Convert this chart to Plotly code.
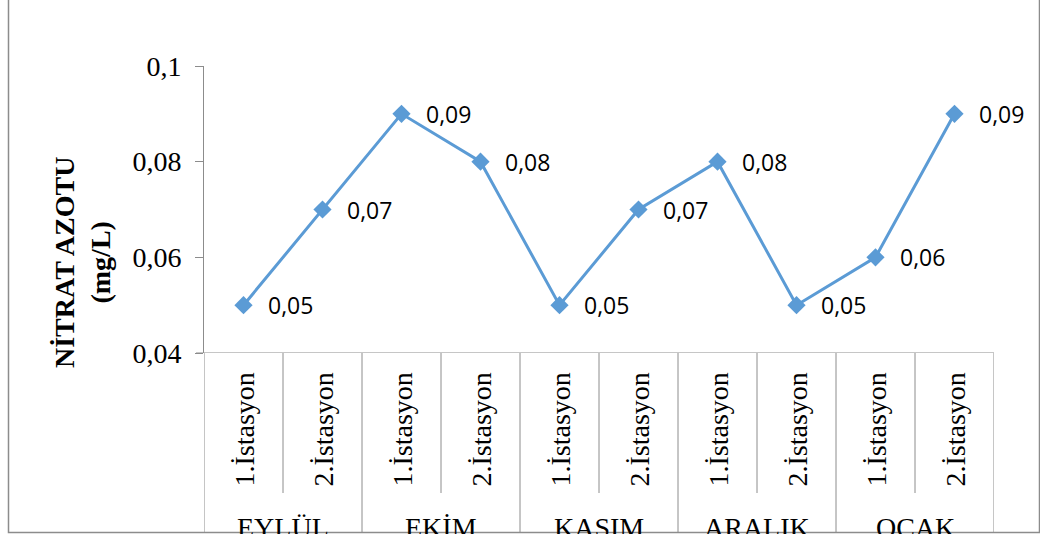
import plotly.graph_objects as go

# Monthly nitrate nitrogen at two stations
months = ["EYLÜL", "EKİM", "KASIM", "ARALIK", "OCAK"]
stations = ["1.İstasyon", "2.İstasyon"]
nitrate = [0.05, 0.07, 0.09, 0.08, 0.05, 0.07, 0.08, 0.05, 0.06, 0.09]
y_ticks = [0.04, 0.06, 0.08, 0.1]
y_title = "NİTRAT AZOTU<br>(mg/L)"

# one unique category per month/station pair
cats = [f"{m} {s}" for m in months for s in stations]
station_of = [s for m in months for s in stations]

W, H = 1040, 534
L, R, T, B = 204, 46, 66, 181
PW = W - L - R
PH = H - T - B


def px(xp):
    """pixel x -> paper x"""
    return (xp - L) / PW


def py(yp):
    """pixel y -> paper y"""
    return (H - B - yp) / PH


GRAY = "#8c8c8c"
SERIF = "Liberation Serif"

fig = go.Figure()
fig.add_trace(go.Scatter(
    x=cats, y=nitrate, mode="lines+markers",
    line=dict(color="#5B9BD5", width=3),
    marker=dict(symbol="diamond", size=14, color="#5B9BD5"),
    cliponaxis=False, showlegend=False, hoverinfo="skip",
))

shapes = []
# horizontal category axis line (extends to the left tick length)
shapes.append(dict(type="line", xref="paper", yref="y",
                   x0=px(196), x1=1, y0=y_ticks[0], y1=y_ticks[0],
                   line=dict(color=GRAY, width=1)))
# category separators: short between stations, long between months
for i in range(len(cats) + 1):
    bottom = 532 if i % len(stations) == 0 else 493
    shapes.append(dict(type="line", xref="x", yref="paper",
                       x0=i - 0.5, x1=i - 0.5, y0=0, y1=py(bottom),
                       line=dict(color=GRAY, width=1)))
# chart border
shapes.append(dict(type="rect", xref="paper", yref="paper",
                   x0=px(8.5), x1=px(1039.5), y0=py(532.5), y1=py(-10),
                   line=dict(color=GRAY, width=1.5), fillcolor="rgba(0,0,0,0)"))

annotations = []
# value labels
for c, v in zip(cats, nitrate):
    annotations.append(dict(x=c, y=v, xref="x", yref="y",
                            text=f"{v:.2f}".replace(".", ","),
                            showarrow=False, xanchor="left", yanchor="middle",
                            xshift=22,
                            font=dict(family="Open Sans", size=23, color="black")))
# station labels (rotated)
for c, s in zip(cats, station_of):
    annotations.append(dict(x=c, y=py(430), xref="x", yref="paper",
                            text=s, textangle=-90, showarrow=False,
                            xanchor="center", yanchor="middle",
                            font=dict(family=SERIF, size=28, color="black")))
# month labels
for k, m in enumerate(months):
    annotations.append(dict(x=k * len(stations) + 0.5, y=py(527),
                            xref="x", yref="paper", text=m, showarrow=False,
                            xanchor="center", yanchor="middle",
                            font=dict(family=SERIF, size=28, color="black")))
# y-axis title
annotations.append(dict(x=px(82), y=py(263), xref="paper", yref="paper",
                        text=f"<b>{y_title}</b>", textangle=-90, showarrow=False,
                        xanchor="center", yanchor="middle", align="center",
                        font=dict(family=SERIF, size=28, color="black")))

fig.update_layout(
    width=W, height=H,
    margin=dict(l=L, r=R, t=T, b=B, pad=0),
    paper_bgcolor="white", plot_bgcolor="white",
    separators=", ",
    shapes=shapes, annotations=annotations,
    xaxis=dict(type="category", range=[-0.5, len(cats) - 0.5],
               showticklabels=False, ticks="", showline=False,
               showgrid=False, zeroline=False, fixedrange=True),
    yaxis=dict(range=[y_ticks[0], y_ticks[-1]], tickvals=y_ticks,
               ticks="outside", ticklen=8, tickcolor=GRAY, tickwidth=1,
               showline=True, linecolor=GRAY, linewidth=1,
               showgrid=False, zeroline=False, ticklabelstandoff=8,
               tickfont=dict(family=SERIF, size=28, color="black"),
               fixedrange=True),
)

fig.write_html("out.html")
